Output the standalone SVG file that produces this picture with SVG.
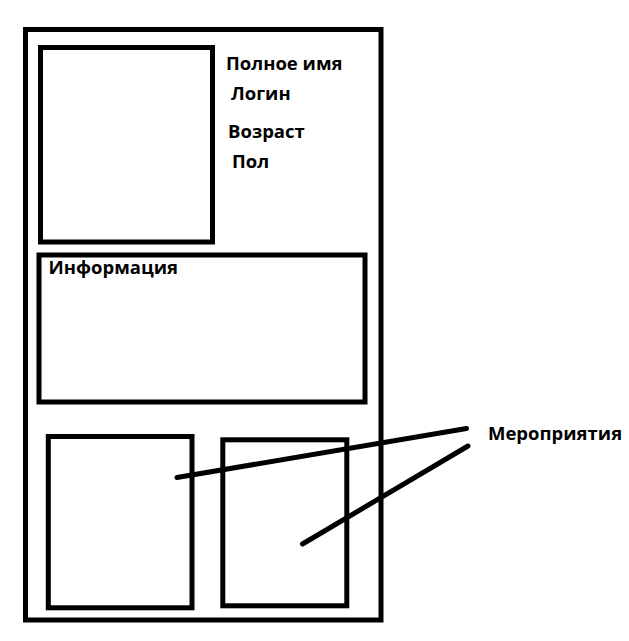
<svg xmlns="http://www.w3.org/2000/svg" width="629" height="641" viewBox="0 0 629 641">
<style>
.box{fill:none;stroke:#000;stroke-width:5}
.ln{stroke:#000;stroke-width:5;stroke-linecap:round;fill:none}
.t{font-family:"Open Sans","Noto Sans","DejaVu Sans",sans-serif;font-weight:bold;font-size:18.5px;fill:#000}
</style>
<rect width="629" height="641" fill="#fff"/>
<g id="frame"><rect class="box" x="25.5" y="29.5" width="355.5" height="590.5"/></g>
<g id="photo"><rect class="box" x="40.5" y="47.5" width="172" height="194.5"/></g>
<g id="profile-fields">
<text class="t" x="226" y="70">Полное имя</text>
<text class="t" x="231" y="100">Логин</text>
<text class="t" x="228" y="138">Возраст</text>
<text class="t" x="232" y="168">Пол</text>
</g>
<g id="info"><rect class="box" x="39" y="255" width="326" height="147"/>
<text class="t" x="48.5" y="274">Информация</text></g>
<g id="event1"><rect class="box" x="48.3" y="436.5" width="143.7" height="171.3"/></g>
<g id="event2"><rect class="box" x="222.8" y="439.8" width="124" height="166"/></g>
<g id="events-label"><text class="t" x="488" y="440">Мероприятия</text></g>
<g id="connectors">
<line class="ln" x1="177" y1="477.5" x2="466.5" y2="428.5"/>
<line class="ln" x1="302.5" y1="544" x2="468" y2="446"/>
</g>
</svg>
